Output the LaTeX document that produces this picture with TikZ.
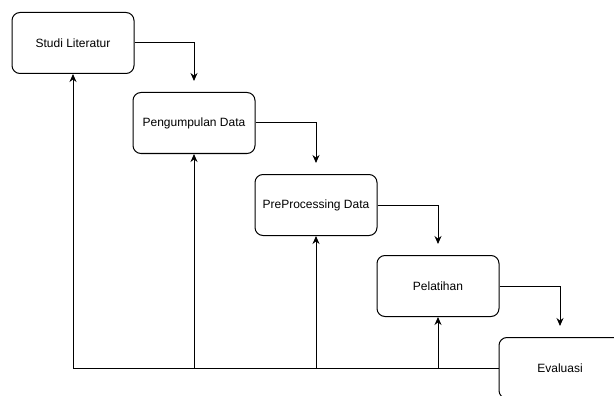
\documentclass[tikz,border=0pt]{standalone}
\usepackage{fontspec}
\setmainfont{Liberation Sans}
\usetikzlibrary{positioning,arrows.meta}
\tikzset{
  rounded box/.style={
    shape = rectangle,
    draw,
    rounded corners=8pt,
    },
  stepbox/.style ={
    rounded box,
    line width=1pt,
    minimum width=122pt,
    minimum height=61pt,
    font=\fontsize{12}{14}\selectfont,
    },
}
\tikzstyle{flow} = [-{Stealth[length=8pt,width=7pt]},line width=1pt]
\tikzstyle{back} = [line width=1pt]

\begin{document}
\begin{tikzpicture}[x=1pt,y=-1pt]
    \clip (0,0) rectangle (614,396);

    \node[stepbox] (lit) at (73,43) {Studi Literatur};
    \node[stepbox,below right=18pt and -2pt of lit.south east,anchor=north west] (peng) {Pengumpulan Data};
    \node[stepbox,below right=20pt and -1pt of peng.south east,anchor=north west] (prep) {PreProcessing Data};
    \node[stepbox,below right=19pt and -1pt of prep.south east,anchor=north west] (lat) {Pelatihan};
    \node[stepbox,below right=20pt and -1pt of lat.south east,anchor=north west] (eval) {Evaluasi};

    % Steps

    \draw[flow,shorten >=11pt] (lit.east) -| (peng.north);
    \draw[flow,shorten >=11pt] (peng.east) -| (prep.north);
    \draw[flow,shorten >=11pt] (prep.east) -| (lat.north);
    \draw[flow,shorten >=11pt] (lat.east) -| (eval.north);

    % Feedback

    \coordinate (base) at (lit.south |- eval.west);
    \draw[back] (eval.west) -- (base);
    \draw[flow] (base) -- (lit.south);
    \draw[flow] (peng.south |- eval.west) -- (peng.south);
    \draw[flow] (prep.south |- eval.west) -- (prep.south);
    \draw[flow] (lat.south |- eval.west) -- (lat.south);

\end{tikzpicture}
\end{document}
